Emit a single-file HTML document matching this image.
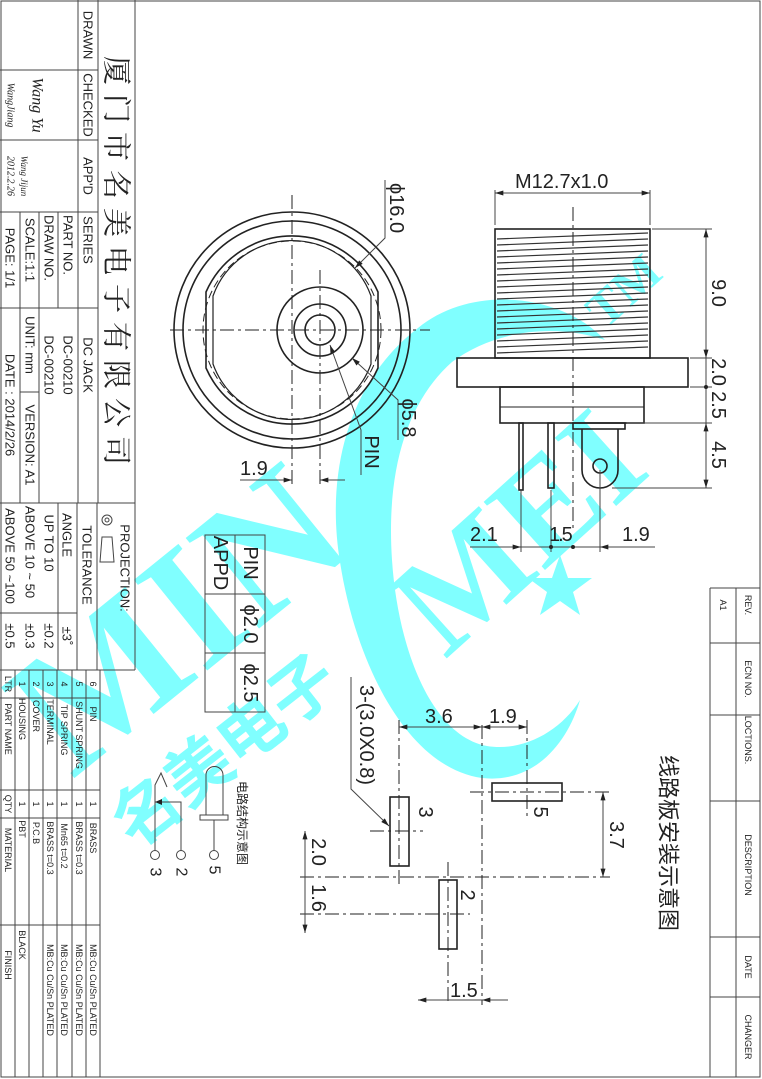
<!DOCTYPE html>
<html><head><meta charset="utf-8"><style>
html,body{margin:0;padding:0;background:#fff;}
svg{display:block;}
text{font-family:"Liberation Sans","Noto Sans CJK SC",sans-serif;fill:#222;}
.r{text-anchor:middle;dominant-baseline:central;}
.l{stroke:#222;fill:none;stroke-width:1.6;}
.t{stroke:#444;fill:none;stroke-width:1;}
.d{stroke:#222;fill:none;stroke-width:1;stroke-dasharray:14 4 3 4;}
.w{fill:#80ffff;}
.wt{fill:#80ffff;font-family:"Liberation Serif",serif;font-weight:bold;}
</style></head><body>
<svg width="762" height="1079" viewBox="0 0 762 1079" xmlns="http://www.w3.org/2000/svg">
<defs>
<marker id="a" viewBox="0 0 10 6" refX="10" refY="3" markerWidth="14" markerHeight="5" orient="auto-start-reverse" markerUnits="userSpaceOnUse"><path d="M0,0 L10,3 L0,6z" fill="#222"/></marker>
</defs>

<!-- watermark -->
<g>
<path class="w" d="M605,340 C560,292 470,285 418,328 C350,380 325,470 340,562 C356,665 408,768 482,778 C535,784 568,742 580,700 C560,732 522,752 487,746 C432,736 398,650 392,560 C386,470 407,402 452,362 C492,332 552,322 605,340 Z"/>
<text class="wt" font-size="178" transform="translate(72,780) rotate(-39)">MIN</text>
<text class="wt" font-size="140" transform="translate(445,660) rotate(-42)">MEI</text>
<text class="wt" font-size="50" transform="translate(605,330) rotate(-42)">TM</text>
<polygon class="w" points="560,555 568,578 592,578 573,592 580,615 560,601 540,615 547,592 528,578 552,578"/>
<text font-size="66" transform="translate(135,850) rotate(-38)" style="fill:#80ffff;font-family:'Noto Sans CJK SC',sans-serif;font-weight:bold">名美电子</text>
</g>

<!-- page border -->
<rect x="1" y="1" width="759" height="1076" class="t"/>

<!-- title block -->
<g class="t">
<line x1="135" y1="0" x2="135" y2="670"/>
<line x1="98" y1="0" x2="98" y2="503"/>
<line x1="78" y1="0" x2="78" y2="503"/>
<line x1="0" y1="70" x2="98" y2="70"/>
<line x1="0" y1="140" x2="98" y2="140"/>
<line x1="0" y1="212" x2="98" y2="212"/>
<line x1="20" y1="212" x2="20" y2="503"/>
<line x1="39" y1="212" x2="39" y2="503"/>
<line x1="58" y1="212" x2="58" y2="308"/>
<line x1="0" y1="308" x2="98" y2="308"/>
<line x1="20" y1="392" x2="39" y2="392"/>
<line x1="0" y1="503" x2="135" y2="503"/>
<line x1="0" y1="670" x2="135" y2="670"/>
<line x1="58" y1="503" x2="58" y2="670"/>
<line x1="77" y1="503" x2="77" y2="670"/>
<line x1="97" y1="503" x2="97" y2="670"/>
<line x1="0" y1="613" x2="77" y2="613"/>
<line x1="100" y1="670" x2="100" y2="1077"/>
<line x1="15" y1="670" x2="15" y2="1077"/>
<line x1="29" y1="670" x2="29" y2="1077"/>
<line x1="43" y1="670" x2="43" y2="1077"/>
<line x1="57" y1="670" x2="57" y2="1077"/>
<line x1="72" y1="670" x2="72" y2="1077"/>
<line x1="86" y1="670" x2="86" y2="1077"/>
<line x1="0" y1="698" x2="100" y2="698"/>
<line x1="0" y1="790" x2="100" y2="790"/>
<line x1="0" y1="818" x2="100" y2="818"/>
<line x1="0" y1="925" x2="100" y2="925"/>
<line x1="710" y1="588" x2="710" y2="1077"/>
<line x1="736" y1="588" x2="736" y2="1077"/>
<line x1="710" y1="588" x2="760" y2="588"/>
<line x1="710" y1="643" x2="760" y2="643"/>
<line x1="710" y1="715" x2="760" y2="715"/>
<line x1="710" y1="801" x2="760" y2="801"/>
<line x1="710" y1="937" x2="760" y2="937"/>
<line x1="710" y1="997" x2="760" y2="997"/>
</g>
<g font-size="13">
<text class="r" transform="translate(88,35) rotate(90)">DRAWN</text>
<text class="r" transform="translate(88,105) rotate(90)">CHECKED</text>
<text class="r" transform="translate(88,176) rotate(90)">APP'D</text>
<text class="r" transform="translate(88,240) rotate(90)">SERIES</text>
<text class="r" transform="translate(68,245) rotate(90)">PART  NO.</text>
<text class="r" transform="translate(49,248) rotate(90)">DRAW NO.</text>
<text class="r" transform="translate(30,250) rotate(90)">SCALE:1:1</text>
<text class="r" transform="translate(10,258) rotate(90)">PAGE:  1/1</text>
<text class="r" transform="translate(88,365) rotate(90)">DC  JACK</text>
<text class="r" transform="translate(68,365) rotate(90)">DC-00210</text>
<text class="r" transform="translate(49,365) rotate(90)">DC-00210</text>
<text class="r" transform="translate(30,345) rotate(90)">UNIT: mm</text>
<text class="r" transform="translate(30,445) rotate(90)">VERSION: A1</text>
<text class="r" transform="translate(10,405) rotate(90)">DATE : 2014/2/26</text>
<text class="r" transform="translate(125,568) rotate(90)">PROJECTION:</text>
<text class="r" transform="translate(87,565) rotate(90)">TOLERANCE</text>
<text class="r" transform="translate(67,535) rotate(90)">ANGLE</text>
<text class="r" transform="translate(49,543) rotate(90)">UP TO 10</text>
<text class="r" transform="translate(30,552) rotate(90)">ABOVE 10 ~ 50</text>
<text class="r" transform="translate(10,556) rotate(90)">ABOVE 50 ~100</text>
<text class="r" transform="translate(67,636) rotate(90)">±3˚</text>
<text class="r" transform="translate(49,636) rotate(90)">±0.2</text>
<text class="r" transform="translate(30,636) rotate(90)">±0.3</text>
<text class="r" transform="translate(10,636) rotate(90)">±0.5</text>
<text class="r" font-size="10" transform="translate(10,105) rotate(90)" style="font-style:italic;font-family:'Liberation Serif',serif">WangJiang</text>
<text class="r" font-size="16" transform="translate(37,105) rotate(90)" style="font-style:italic;font-family:'Liberation Serif',serif">Wang Yu</text>
<text class="r" font-size="9" transform="translate(24,176) rotate(90)" style="font-style:italic;font-family:'Liberation Serif',serif">Wang Jijun</text>
<text class="r" font-size="10" transform="translate(10,176) rotate(90)" style="font-style:italic;font-family:'Liberation Serif',serif">2012.2.26</text>
</g>
<text class="r" font-size="29" transform="translate(118,265) rotate(90)" letter-spacing="9" style="font-family:'Noto Serif CJK SC','Noto Sans CJK SC',serif">厦门市名美电子有限公司</text>
<g class="t"><circle cx="107" cy="520" r="5"/><circle cx="107" cy="520" r="2"/><path d="M102,537 L112,537 L114,562 L100,562 Z"/></g>

<g font-size="9">
<text class="r" transform="translate(93,684) rotate(90)">6</text>
<text class="r" transform="translate(79,684) rotate(90)">5</text>
<text class="r" transform="translate(64,684) rotate(90)">4</text>
<text class="r" transform="translate(50,684) rotate(90)">3</text>
<text class="r" transform="translate(36,684) rotate(90)">2</text>
<text class="r" transform="translate(22,684) rotate(90)">1</text>
<text class="r" transform="translate(8,684) rotate(90)">LTR</text>
<text class="r" transform="translate(93,714) rotate(90)">PIN</text>
<text class="r" transform="translate(79,735) rotate(90)">SHUNT  SPRING</text>
<text class="r" transform="translate(64,730) rotate(90)">TIP  SPRING</text>
<text class="r" transform="translate(50,722) rotate(90)">TERMINAL</text>
<text class="r" transform="translate(36,716) rotate(90)">COVER</text>
<text class="r" transform="translate(22,719) rotate(90)">HOUSING</text>
<text class="r" transform="translate(8,729) rotate(90)">PART NAME</text>
<text class="r" transform="translate(93,804) rotate(90)">1</text>
<text class="r" transform="translate(79,804) rotate(90)">1</text>
<text class="r" transform="translate(64,804) rotate(90)">1</text>
<text class="r" transform="translate(50,804) rotate(90)">1</text>
<text class="r" transform="translate(36,804) rotate(90)">1</text>
<text class="r" transform="translate(22,804) rotate(90)">1</text>
<text class="r" transform="translate(8,804) rotate(90)">QTY</text>
<text class="r" transform="translate(93,838) rotate(90)">BRASS</text>
<text class="r" transform="translate(79,848) rotate(90)">BRASS  t=0.3</text>
<text class="r" transform="translate(64,846) rotate(90)">Mn65  t=0.2</text>
<text class="r" transform="translate(50,848) rotate(90)">BRASS  t=0.3</text>
<text class="r" transform="translate(36,833) rotate(90)">P.C.B</text>
<text class="r" transform="translate(22,829) rotate(90)">PBT</text>
<text class="r" transform="translate(8,850) rotate(90)">MATERIAL</text>
<text class="r" transform="translate(93,990) rotate(90)">MB:Cu   Cu/Sn   PLATED</text>
<text class="r" transform="translate(79,990) rotate(90)">MB:Cu   Cu/Sn   PLATED</text>
<text class="r" transform="translate(64,990) rotate(90)">MB:Cu   Cu/Sn   PLATED</text>
<text class="r" transform="translate(50,990) rotate(90)">MB:Cu   Cu/Sn   PLATED</text>
<text class="r" transform="translate(22,945) rotate(90)">BLACK</text>
<text class="r" transform="translate(8,965) rotate(90)">FINISH</text>
<text class="r" transform="translate(748,605) rotate(90)">REV.</text>
<text class="r" transform="translate(723,605) rotate(90)">A1</text>
<text class="r" transform="translate(748,679) rotate(90)">ECN NO.</text>
<text class="r" transform="translate(748,740) rotate(90)">LOCTIONS.</text>
<text class="r" transform="translate(748,865) rotate(90)">DESCRIPTION</text>
<text class="r" transform="translate(748,967) rotate(90)">DATE</text>
<text class="r" transform="translate(748,1037) rotate(90)">CHANGER</text>
</g>
<text class="r" font-size="22" transform="translate(668,843) rotate(90)">线路板安装示意图</text>

<!-- front view -->
<g class="l">
<circle cx="292" cy="330" r="118"/>
<circle cx="292" cy="330" r="109"/>
<path d="M206,292 L206,368 A94 94 0 0 0 378,368 L378,292 A94 94 0 0 0 206,292 Z"/>
<path d="M213,296 L213,364 A84 84 0 0 0 371,364 L371,296 A84 84 0 0 0 213,296 Z" stroke-width="1.2"/>
<circle cx="292" cy="330" r="89" stroke-dasharray="8 4" stroke-width="1"/>
<circle cx="320" cy="330" r="43"/>
<circle cx="320" cy="330" r="26"/>
<circle cx="320" cy="330" r="15"/>
</g>
<g class="d">
<line x1="170" y1="330" x2="430" y2="330"/>
<line x1="292" y1="195" x2="292" y2="485"/>
<line x1="320" y1="270" x2="320" y2="485"/>
</g>
<g class="t">
<path d="M385,180 L385,238 L355,268" marker-end="url(#a)"/>
<path d="M398,440 L398,400 L352,358" marker-end="url(#a)"/>
<path d="M361,475 L361,430 L330,345" marker-end="url(#a)"/>
<line x1="240" y1="480" x2="292" y2="480"/>
<line x1="266" y1="480" x2="292" y2="480" marker-end="url(#a)"/>
<line x1="345" y1="480" x2="320" y2="480" marker-end="url(#a)"/>
</g>
<g font-size="20">
<text class="r" transform="translate(396,208) rotate(90)">ϕ16.0</text>
<text class="r" transform="translate(408,418) rotate(90)">ϕ5.8</text>
<text class="r" transform="translate(371,452) rotate(90)">PIN</text>
<text x="240" y="475">1.9</text>
</g>

<!-- side view -->
<g class="l">
<rect x="495" y="229" width="155" height="129"/>
<rect x="457" y="358" width="231" height="29"/>
<rect x="500" y="387" width="144" height="36"/>
<line x1="500" y1="407" x2="644" y2="407" stroke-width="1"/>
<rect x="519" y="423" width="4" height="67"/>
<rect x="548" y="423" width="6" height="65"/>
<rect x="573" y="423" width="52" height="6"/>
<path d="M582,429 L582,470 A18 18 0 0 0 618,470 L618,429"/>
<circle cx="600" cy="466" r="7"/>
</g>
<g stroke="#333" stroke-width="1.2">
<line x1="497" y1="239" x2="648" y2="233"/><line x1="497" y1="245" x2="648" y2="239"/><line x1="497" y1="251" x2="648" y2="245"/><line x1="497" y1="257" x2="648" y2="251"/><line x1="497" y1="263" x2="648" y2="257"/><line x1="497" y1="269" x2="648" y2="263"/><line x1="497" y1="275" x2="648" y2="269"/><line x1="497" y1="281" x2="648" y2="275"/><line x1="497" y1="287" x2="648" y2="281"/><line x1="497" y1="293" x2="648" y2="287"/><line x1="497" y1="299" x2="648" y2="293"/><line x1="497" y1="305" x2="648" y2="299"/><line x1="497" y1="311" x2="648" y2="305"/><line x1="497" y1="317" x2="648" y2="311"/><line x1="497" y1="323" x2="648" y2="317"/><line x1="497" y1="329" x2="648" y2="323"/><line x1="497" y1="335" x2="648" y2="329"/><line x1="497" y1="341" x2="648" y2="335"/><line x1="497" y1="347" x2="648" y2="341"/><line x1="497" y1="353" x2="648" y2="347"/>
</g>
<g class="d"><line x1="573" y1="207" x2="573" y2="530"/></g>
<g class="t">
<line x1="495" y1="190" x2="495" y2="225"/><line x1="650" y1="190" x2="650" y2="225"/>
<line x1="495" y1="193" x2="650" y2="193" marker-start="url(#a)" marker-end="url(#a)"/>
<line x1="652" y1="229" x2="712" y2="229"/><line x1="690" y1="358" x2="712" y2="358"/><line x1="690" y1="387" x2="712" y2="387"/><line x1="627" y1="423" x2="712" y2="423"/><line x1="612" y1="488" x2="712" y2="488"/>
<line x1="706" y1="229" x2="706" y2="358" marker-start="url(#a)" marker-end="url(#a)"/>
<line x1="706" y1="358" x2="706" y2="423"/>
<line x1="706" y1="423" x2="706" y2="488" marker-start="url(#a)" marker-end="url(#a)"/>
<line x1="521" y1="490" x2="521" y2="552"/><line x1="551" y1="490" x2="551" y2="552"/><line x1="600" y1="470" x2="600" y2="552"/>
<line x1="470" y1="547" x2="521" y2="547" marker-end="url(#a)"/>
<line x1="521" y1="547" x2="600" y2="547"/>
<line x1="655" y1="547" x2="600" y2="547" marker-end="url(#a)"/>
</g>
<circle cx="551" cy="547" r="2" fill="#222"/><circle cx="573" cy="547" r="2" fill="#222"/><circle cx="706" cy="387" r="2" fill="#222"/>
<g font-size="20">
<text x="515" y="188">M12.7x1.0</text>
<text class="r" transform="translate(718,293) rotate(90)">9.0</text>
<text class="r" transform="translate(718,372) rotate(90)">2.0</text>
<text class="r" transform="translate(718,405) rotate(90)">2.5</text>
<text class="r" transform="translate(718,455) rotate(90)">4.5</text>
<text x="470" y="541">2.1</text>
<text x="549" y="541" letter-spacing="-2">1.5</text>
<text x="622" y="541">1.9</text>
</g>

<!-- pin table -->
<g class="t">
<rect x="205" y="535" width="60" height="177"/>
<line x1="235" y1="535" x2="235" y2="712"/>
<line x1="205" y1="594" x2="265" y2="594"/>
<line x1="205" y1="653" x2="265" y2="653"/>
</g>
<g font-size="20">
<text class="r" transform="translate(250,563) rotate(90)">PIN</text>
<text class="r" transform="translate(220,563) rotate(90)">APPD</text>
<text class="r" transform="translate(250,624) rotate(90)">ϕ2.0</text>
<text class="r" transform="translate(250,683) rotate(90)">ϕ2.5</text>
</g>

<!-- circuit symbol -->
<g class="t" stroke-width="1.2">
<path d="M155,851 L155,785 L161,773 L167,787"/>
<path d="M181,851 L181,802 L155,802"/>
<path d="M206,815 L206,775 A8.5 8.5 0 0 1 223,775 L223,815"/>
<rect x="200" y="815" width="28" height="5"/>
<line x1="214" y1="820" x2="214" y2="851"/>
<circle cx="155" cy="855" r="4.5"/><circle cx="181" cy="855" r="4.5"/><circle cx="214" cy="855" r="4.5"/>
</g>
<path d="M155,802 L162,799 L162,805Z" fill="#222"/>
<g font-size="16">
<text class="r" transform="translate(155,872) rotate(90)">3</text>
<text class="r" transform="translate(181,872) rotate(90)">2</text>
<text class="r" transform="translate(214,870) rotate(90)">5</text>
</g>
<text class="r" font-size="12" transform="translate(242,823) rotate(90)">电路结构示意图</text>

<!-- PCB layout -->
<g class="d">
<line x1="482" y1="725" x2="482" y2="1005"/>
<line x1="300" y1="877" x2="610" y2="877"/>
<line x1="399" y1="720" x2="399" y2="885"/>
<line x1="370" y1="831" x2="423" y2="831"/>
<line x1="470" y1="792" x2="610" y2="792"/>
<line x1="527" y1="720" x2="527" y2="818"/>
<line x1="448" y1="862" x2="448" y2="1005"/>
<line x1="300" y1="914" x2="470" y2="914"/>
</g>
<g class="l">
<rect x="390" y="797" width="19" height="69"/>
<rect x="492" y="783" width="70" height="18"/>
<rect x="439" y="880" width="18" height="69"/>
</g>
<g class="t">
<line x1="399" y1="727" x2="482" y2="727" marker-start="url(#a)" marker-end="url(#a)"/>
<line x1="482" y1="727" x2="527" y2="727" marker-start="url(#a)" marker-end="url(#a)"/>
<line x1="603" y1="792" x2="603" y2="877" marker-start="url(#a)" marker-end="url(#a)"/>
<line x1="305" y1="831" x2="305" y2="877" marker-start="url(#a)"/>
<line x1="305" y1="877" x2="305" y2="933" marker-end="url(#a)"/>
<line x1="418" y1="1000" x2="448" y2="1000" marker-start="url(#a)"/>
<line x1="448" y1="1000" x2="482" y2="1000"/>
<line x1="508" y1="1000" x2="482" y2="1000" marker-end="url(#a)"/>
<path d="M351,677 L351,789 L389,826" marker-end="url(#a)"/>
</g>
<g font-size="20">
<text x="425" y="723">3.6</text>
<text x="489" y="723">1.9</text>
<text class="r" transform="translate(616,835) rotate(90)">3.7</text>
<text class="r" transform="translate(318,852) rotate(90)">2.0</text>
<text class="r" transform="translate(318,898) rotate(90)">1.6</text>
<text x="450" y="997">1.5</text>
<text class="r" transform="translate(366,735) rotate(90)">3-(3.0X0.8)</text>
<text class="r" transform="translate(425,812) rotate(90)">3</text>
<text class="r" transform="translate(540,812) rotate(90)">5</text>
<text class="r" transform="translate(467,895) rotate(90)">2</text>
</g>
</svg>
</body></html>
